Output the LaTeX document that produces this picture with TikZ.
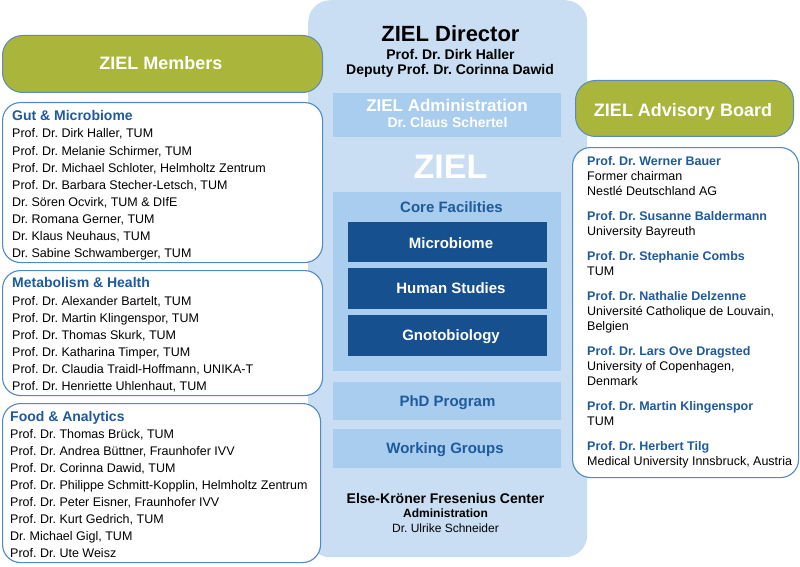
\documentclass[tikz,border=0pt]{standalone}
\usepackage{fontspec}
\setmainfont{Liberation Sans}
\frenchspacing
\definecolor{olivehdr}{HTML}{AAB53B}
\definecolor{hdrborder}{HTML}{5A8AB5}
\definecolor{boxborder}{HTML}{5089C3}
\definecolor{headblue}{HTML}{1E5A9C}
\definecolor{panelblue}{HTML}{C9DEF3}
\definecolor{innerblue}{HTML}{A9CDEE}
\definecolor{darkblue}{HTML}{17508F}
\begin{document}
\begin{tikzpicture}[x=1pt,y=-1pt,
  greenhdr/.style={draw=hdrborder, line width=1pt, fill=olivehdr, rounded corners=20pt, anchor=north west, inner sep=0pt},
  listbox/.style={draw=boxborder, line width=1.1pt, fill=white, rounded corners=18pt, anchor=north west, inner sep=0pt},
  panel/.style={fill=panelblue, rounded corners=22pt, anchor=north west, inner sep=0pt},
  innerbox/.style={fill=innerblue, anchor=north west, inner sep=0pt, minimum width=228pt},
  darkbox/.style={fill=darkblue, anchor=north west, inner sep=0pt, minimum width=199pt},
  hdrtext/.style={anchor=base, inner sep=0pt, text=white, font=\bfseries\fontsize{18}{20}\selectfont},
  listhead/.style={anchor=base west, inner sep=0pt, text=headblue, font=\bfseries\fontsize{14}{17}\selectfont},
  listtext/.style={anchor=base west, inner sep=0pt, font=\fontsize{12.5}{15}\selectfont},
  advhead/.style={anchor=base west, inner sep=0pt, text=headblue, font=\bfseries\fontsize{12.5}{15}\selectfont},
  ctext/.style={anchor=base, inner sep=0pt}
]
\useasboundingbox (0,0) rectangle (800,567);

% central panel
\node[panel, minimum width=279pt, minimum height=557pt] (panel) at (308,0) {};
\node[ctext, font=\bfseries\fontsize{22}{24}\selectfont] (dirtitle) at (450.5,42) {ZIEL Director};
\node[ctext, font=\bfseries\fontsize{14}{16}\selectfont] (dirname) at (450.5,60) {Prof. Dr. Dirk Haller};
\node[ctext, font=\bfseries\fontsize{14}{16}\selectfont] (deputy) at (450,75) {Deputy Prof. Dr. Corinna Dawid};

\node[innerbox, minimum height=44pt] (admin) at (333,93) {};
\node[ctext, text=white, font=\bfseries\fontsize{17}{19}\selectfont] (admintitle) at (447,112) {ZIEL Administration};
\node[ctext, text=white, font=\bfseries\fontsize{14}{16}\selectfont] (adminname) at (447.5,128) {Dr. Claus Schertel};

\node[ctext, text=white, font=\bfseries\fontsize{34}{38}\selectfont] (ziel) at (450.5,178) {ZIEL};

\node[innerbox, minimum height=179pt] (core) at (333,192) {};
\node[ctext, text=headblue, font=\bfseries\fontsize{15}{17}\selectfont] (coretitle) at (451.5,212) {Core Facilities};
\node[darkbox, minimum height=40pt] (micro) at (348,222) {};
\node[ctext, text=white, font=\bfseries\fontsize{15}{17}\selectfont] (microtext) at (451,248) {Microbiome};
\node[darkbox, minimum height=41pt] (human) at (348,268) {};
\node[ctext, text=white, font=\bfseries\fontsize{15}{17}\selectfont] (humantext) at (451,293.5) {Human Studies};
\node[darkbox, minimum height=41pt] (gnoto) at (348,315) {};
\node[ctext, text=white, font=\bfseries\fontsize{15}{17}\selectfont] (gnototext) at (451,340.5) {Gnotobiology};

\node[innerbox, minimum height=38pt] (phd) at (333,382) {};
\node[ctext, text=headblue, font=\bfseries\fontsize{15}{17}\selectfont] (phdtext) at (447.5,406) {PhD Program};
\node[innerbox, minimum height=39pt] (wg) at (333,429) {};
\node[ctext, text=headblue, font=\bfseries\fontsize{15}{17}\selectfont] (wgtext) at (445,453) {Working Groups};

\node[ctext, font=\bfseries\fontsize{14}{16}\selectfont] (ekfz) at (445.5,503) {Else-Kröner Fresenius Center};
\node[ctext, font=\bfseries\fontsize{12}{14}\selectfont] (ekfzadmin) at (445.5,517) {Administration};
\node[ctext, font=\fontsize{12}{14}\selectfont] (ekfzname) at (445.5,532) {Dr. Ulrike Schneider};

% members
\node[greenhdr, minimum width=320pt, minimum height=57pt] (memhdr) at (2,35) {};
\node[hdrtext] (memtext) at (161,70) {ZIEL Members};

\node[listbox, minimum width=320pt, minimum height=160pt] (gutbox) at (2,102) {};
\node[listhead] (guthead) at (12,121) {Gut \& Microbiome};
\foreach \t [count=\i from 0] in {{Prof. Dr. Dirk Haller, TUM},{Prof. Dr. Melanie Schirmer, TUM},{Prof. Dr. Michael Schloter, Helmholtz Zentrum},{Prof. Dr. Barbara Stecher-Letsch, TUM},{Dr. Sören Ocvirk, TUM \& DIfE},{Dr. Romana Gerner, TUM},{Dr. Klaus Neuhaus, TUM},{Dr. Sabine Schwamberger, TUM}}
  \node[listtext] (gut\i) at (12,138+17*\i) {\t};

\node[listbox, minimum width=320pt, minimum height=125pt] (metbox) at (2,270) {};
\node[listhead] (methead) at (12,287) {Metabolism \& Health};
\foreach \t [count=\i from 0] in {{Prof. Dr. Alexander Bartelt, TUM},{Prof. Dr. Martin Klingenspor, TUM},{Prof. Dr. Thomas Skurk, TUM},{Prof. Dr. Katharina Timper, TUM},{Prof. Dr. Claudia Traidl-Hoffmann, UNIKA-T},{Prof. Dr. Henriette Uhlenhaut, TUM}}
  \node[listtext] (met\i) at (12,305+17*\i) {\t};

\node[listbox, minimum width=318pt, minimum height=159pt] (foodbox) at (2,403) {};
\node[listhead] (foodhead) at (10,421) {Food \& Analytics};
\foreach \t [count=\i from 0] in {{Prof. Dr. Thomas Brück, TUM},{Prof. Dr. Andrea Büttner, Fraunhofer IVV},{Prof. Dr. Corinna Dawid, TUM},{Prof. Dr. Philippe Schmitt-Kopplin, Helmholtz Zentrum},{Prof. Dr. Peter Eisner, Fraunhofer IVV},{Prof. Dr. Kurt Gedrich, TUM},{Dr. Michael Gigl, TUM},{Prof. Dr. Ute Weisz}}
  \node[listtext] (food\i) at (10,438+17*\i) {\t};

% advisory board
\node[greenhdr, minimum width=218pt, minimum height=56pt] (advhdr) at (575,80) {};
\node[hdrtext] (advtext) at (683,117) {ZIEL Advisory Board};

\node[listbox, minimum width=226pt, minimum height=330pt] (advbox) at (572,147) {};
\node[advhead] (a1) at (587,165) {Prof. Dr. Werner Bauer};
\node[listtext] (a1b) at (587,180) {Former chairman};
\node[listtext] (a1c) at (587,195) {Nestlé Deutschland AG};
\node[advhead] (a2) at (587,220) {Prof. Dr. Susanne Baldermann};
\node[listtext] (a2b) at (587,235) {University Bayreuth};
\node[advhead] (a3) at (587,260) {Prof. Dr. Stephanie Combs};
\node[listtext] (a3b) at (587,275) {TUM};
\node[advhead] (a4) at (587,300) {Prof. Dr. Nathalie Delzenne};
\node[listtext] (a4b) at (587,315) {Université Catholique de Louvain,};
\node[listtext] (a4c) at (587,330) {Belgien};
\node[advhead] (a5) at (587,355) {Prof. Dr. Lars Ove Dragsted};
\node[listtext] (a5b) at (587,370) {University of Copenhagen,};
\node[listtext] (a5c) at (587,385) {Denmark};
\node[advhead] (a6) at (587,410) {Prof. Dr. Martin Klingenspor};
\node[listtext] (a6b) at (587,425) {TUM};
\node[advhead] (a7) at (587,450) {Prof. Dr. Herbert Tilg};
\node[listtext] (a7b) at (587,465) {Medical University Innsbruck, Austria};
\end{tikzpicture}
\end{document}
